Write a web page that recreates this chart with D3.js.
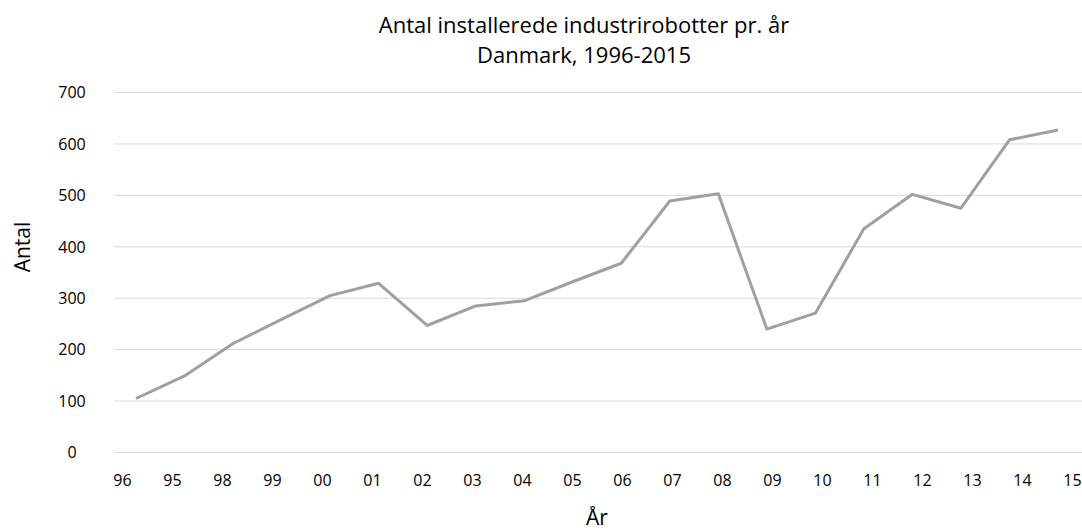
<!DOCTYPE html>
<html>
<head>
<meta charset="utf-8">
<script src="https://cdn.jsdelivr.net/npm/d3@7"></script>
<style>
  body { margin: 0; background: #fff; }
  svg { display: block; font-family: 'Open Sans', sans-serif; }
</style>
</head>
<body>
<svg></svg>
<script>
let years = ['96', '95', '98', '99', '00', '01', '02', '03', '04', '05',
             '06', '07', '08', '09', '10', '11', '12', '13', '14', '15']
let robots = [104, 148, 211, 258, 304, 328, 246, 284, 294, 331,
              367, 488, 502, 239, 270, 434, 501, 474, 607, 626]
let yTicks = [0, 100, 200, 300, 400, 500, 600, 700]

let width = 1082
let height = 531

let svg = d3.select('svg')
  .attr('width', width)
  .attr('height', height)

// the points and the year labels are not spaced the same in the original
let xScale = d3.scalePoint()
  .domain(years)
  .range([136, 1058])

let xLabelScale = d3.scalePoint()
  .domain(years)
  .range([122, 1072])

let yScale = d3.scaleLinear()
  .domain([0, 700])
  .range([452, 92])

// gridlines
let grid = svg.append('g')
  .attr('transform', 'translate(114, 0)')
  .call(d3.axisRight(yScale).tickValues(yTicks).tickSize(968).tickFormat(''))
grid.select('.domain').remove()
grid.selectAll('line').attr('stroke', '#d9d9d9').attr('stroke-width', 1)

// y labels
let yAxis = svg.append('g')
  .attr('transform', 'translate(72, 0)')
  .call(d3.axisLeft(yScale).tickValues(yTicks).tickSize(0).tickPadding(0))
yAxis.select('.domain').remove()
yAxis.selectAll('text')
  .attr('x', 0)
  .attr('text-anchor', 'middle')
  .attr('dy', '0.36em')
  .attr('fill', '#000')
  .style('font-size', '16px')
  .style('font-family', 'Open Sans')

// x labels
let xAxis = svg.append('g')
  .attr('transform', 'translate(0, 486)')
  .call(d3.axisBottom(xLabelScale).tickSize(0).tickPadding(0))
xAxis.select('.domain').remove()
xAxis.selectAll('text')
  .attr('y', 0)
  .attr('dy', 0)
  .attr('fill', '#000')
  .style('font-size', '16px')
  .style('font-family', 'Open Sans')

// line
let line = d3.line()
  .x((d, i) => xScale(years[i]))
  .y(d => yScale(d))

svg.append('path')
  .datum(robots)
  .attr('d', line)
  .attr('fill', 'none')
  .attr('stroke', '#a0a0a0')
  .attr('stroke-width', 3)
  .attr('stroke-linejoin', 'round')

// titles
svg.append('text')
  .attr('x', 584)
  .attr('y', 33)
  .attr('text-anchor', 'middle')
  .style('font-size', '22px')
  .text('Antal installerede industrirobotter pr. år')

svg.append('text')
  .attr('x', 584)
  .attr('y', 63)
  .attr('text-anchor', 'middle')
  .style('font-size', '22px')
  .text('Danmark, 1996-2015')

svg.append('text')
  .attr('transform', 'translate(30, 247) rotate(-90)')
  .attr('text-anchor', 'middle')
  .style('font-size', '21px')
  .text('Antal')

svg.append('text')
  .attr('x', 597)
  .attr('y', 525)
  .attr('text-anchor', 'middle')
  .style('font-size', '21px')
  .text('År')
</script>
</body>
</html>
